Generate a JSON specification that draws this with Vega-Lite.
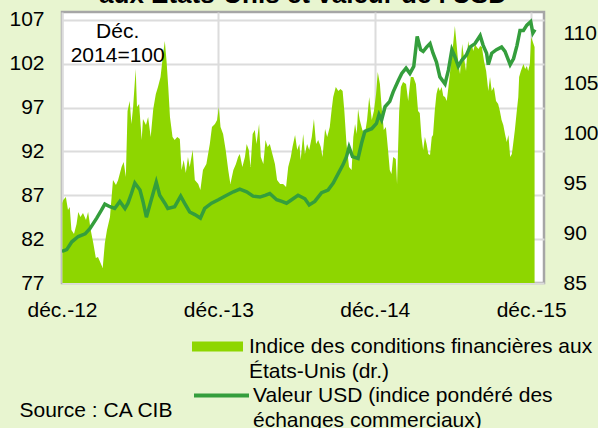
{
  "$schema": "https://vega.github.io/schema/vega-lite/v6.json",
  "width": 482,
  "height": 271,
  "autosize": {"type": "none"},
  "padding": {"left": 62, "top": 12, "right": 54, "bottom": 145},
  "background": "#e8f5d0",
  "config": {
    "font": "Liberation Sans",
    "view": {"fill": "#ffffff", "stroke": "#a6a6a6", "strokeWidth": 2.5},
    "axis": {"labelFont": "Liberation Sans", "labelFontSize": 21, "labelColor": "#000000", "domain": false, "ticks": false, "gridColor": "#dcdcdc", "gridWidth": 2}
  },
  "title": {"text": ["Conditions financières", "aux États-Unis et valeur de l'USD"], "fontSize": 26, "fontWeight": "bold", "font": "Liberation Sans", "color": "#000000", "anchor": "middle", "baseline": "alphabetic", "orient": "top", "frame": "group", "offset": 3, "dy": 23, "lineHeight": 30},
  "datasets": {
    "fci": [
      {"date": "2012-12-02", "fci": 93.0}, {"date": "2012-12-04", "fci": 93.3}, {"date": "2012-12-10", "fci": 93.6}, {"date": "2012-12-15", "fci": 92.3}, {"date": "2012-12-19", "fci": 92.6}, {"date": "2012-12-23", "fci": 90.3}, {"date": "2012-12-29", "fci": 89.9},
      {"date": "2013-01-04", "fci": 90.9}, {"date": "2013-01-08", "fci": 92.1}, {"date": "2013-01-13", "fci": 91.6}, {"date": "2013-01-19", "fci": 92.0}, {"date": "2013-01-26", "fci": 91.3}, {"date": "2013-01-31", "fci": 92.1},
      {"date": "2013-02-06", "fci": 90.3}, {"date": "2013-02-12", "fci": 89.0}, {"date": "2013-02-18", "fci": 87.5}, {"date": "2013-02-23", "fci": 87.6},
      {"date": "2013-03-01", "fci": 87.0}, {"date": "2013-03-06", "fci": 86.5}, {"date": "2013-03-11", "fci": 89.0}, {"date": "2013-03-16", "fci": 90.3}, {"date": "2013-03-23", "fci": 91.6}, {"date": "2013-03-30", "fci": 95.3},
      {"date": "2013-04-06", "fci": 94.8}, {"date": "2013-04-11", "fci": 95.3}, {"date": "2013-04-19", "fci": 96.6}, {"date": "2013-04-24", "fci": 97.1}, {"date": "2013-04-29", "fci": 95.6},
      {"date": "2013-05-03", "fci": 102.2}, {"date": "2013-05-08", "fci": 103.2}, {"date": "2013-05-12", "fci": 100.9}, {"date": "2013-05-16", "fci": 102.6}, {"date": "2013-05-22", "fci": 106.4}, {"date": "2013-05-25", "fci": 102.6}, {"date": "2013-05-30", "fci": 102.9},
      {"date": "2013-06-05", "fci": 99.3}, {"date": "2013-06-08", "fci": 101.4}, {"date": "2013-06-15", "fci": 100.8}, {"date": "2013-06-20", "fci": 101.6}, {"date": "2013-06-26", "fci": 99.6},
      {"date": "2013-07-02", "fci": 102.4}, {"date": "2013-07-08", "fci": 103.9}, {"date": "2013-07-13", "fci": 104.6}, {"date": "2013-07-19", "fci": 105.6}, {"date": "2013-07-25", "fci": 107.9}, {"date": "2013-07-29", "fci": 109.2},
      {"date": "2013-08-02", "fci": 107.2}, {"date": "2013-08-06", "fci": 104.6}, {"date": "2013-08-10", "fci": 101.6}, {"date": "2013-08-16", "fci": 99.6}, {"date": "2013-08-21", "fci": 99.3}, {"date": "2013-08-27", "fci": 99.6},
      {"date": "2013-09-02", "fci": 99.4}, {"date": "2013-09-06", "fci": 96.3}, {"date": "2013-09-11", "fci": 97.3}, {"date": "2013-09-16", "fci": 96.0}, {"date": "2013-09-21", "fci": 97.6}, {"date": "2013-09-25", "fci": 96.6},
      {"date": "2013-10-02", "fci": 98.3}, {"date": "2013-10-07", "fci": 95.3}, {"date": "2013-10-15", "fci": 94.9}, {"date": "2013-10-20", "fci": 94.3}, {"date": "2013-10-26", "fci": 96.3},
      {"date": "2013-11-03", "fci": 96.9}, {"date": "2013-11-11", "fci": 98.9}, {"date": "2013-11-16", "fci": 100.6}, {"date": "2013-11-23", "fci": 100.9}, {"date": "2013-11-28", "fci": 101.3},
      {"date": "2013-12-02", "fci": 102.6}, {"date": "2013-12-06", "fci": 100.6}, {"date": "2013-12-12", "fci": 99.9}, {"date": "2013-12-18", "fci": 98.3}, {"date": "2013-12-24", "fci": 96.3}, {"date": "2013-12-29", "fci": 94.9},
      {"date": "2014-01-05", "fci": 96.3}, {"date": "2014-01-11", "fci": 96.9}, {"date": "2014-01-16", "fci": 97.6}, {"date": "2014-01-20", "fci": 97.9}, {"date": "2014-01-26", "fci": 96.6},
      {"date": "2014-02-01", "fci": 97.6}, {"date": "2014-02-05", "fci": 98.9}, {"date": "2014-02-10", "fci": 98.3}, {"date": "2014-02-14", "fci": 96.6}, {"date": "2014-02-19", "fci": 99.9}, {"date": "2014-02-24", "fci": 100.3}, {"date": "2014-02-28", "fci": 98.9},
      {"date": "2014-03-06", "fci": 100.9}, {"date": "2014-03-10", "fci": 97.6}, {"date": "2014-03-16", "fci": 96.9}, {"date": "2014-03-21", "fci": 99.3}, {"date": "2014-03-26", "fci": 98.6}, {"date": "2014-03-31", "fci": 98.9},
      {"date": "2014-04-06", "fci": 97.9}, {"date": "2014-04-12", "fci": 96.9}, {"date": "2014-04-17", "fci": 95.3}, {"date": "2014-04-24", "fci": 94.9},
      {"date": "2014-05-01", "fci": 94.9}, {"date": "2014-05-08", "fci": 94.6}, {"date": "2014-05-13", "fci": 96.6}, {"date": "2014-05-19", "fci": 97.6}, {"date": "2014-05-23", "fci": 98.6}, {"date": "2014-05-29", "fci": 99.8},
      {"date": "2014-06-03", "fci": 98.3}, {"date": "2014-06-08", "fci": 98.9}, {"date": "2014-06-11", "fci": 97.3}, {"date": "2014-06-17", "fci": 99.9}, {"date": "2014-06-21", "fci": 97.9}, {"date": "2014-06-26", "fci": 98.9},
      {"date": "2014-07-01", "fci": 98.3}, {"date": "2014-07-07", "fci": 99.6}, {"date": "2014-07-12", "fci": 101.4}, {"date": "2014-07-17", "fci": 98.9}, {"date": "2014-07-22", "fci": 99.3}, {"date": "2014-07-28", "fci": 98.6},
      {"date": "2014-08-01", "fci": 97.6}, {"date": "2014-08-07", "fci": 100.4}, {"date": "2014-08-12", "fci": 99.6}, {"date": "2014-08-18", "fci": 100.6}, {"date": "2014-08-22", "fci": 102.2}, {"date": "2014-08-26", "fci": 103.6},
      {"date": "2014-09-01", "fci": 104.6}, {"date": "2014-09-07", "fci": 104.2}, {"date": "2014-09-12", "fci": 104.4}, {"date": "2014-09-17", "fci": 104.2}, {"date": "2014-09-21", "fci": 102.2}, {"date": "2014-09-26", "fci": 98.9},
      {"date": "2014-10-02", "fci": 96.6}, {"date": "2014-10-08", "fci": 96.3}, {"date": "2014-10-12", "fci": 99.6}, {"date": "2014-10-16", "fci": 100.9}, {"date": "2014-10-20", "fci": 99.9}, {"date": "2014-10-23", "fci": 102.4}, {"date": "2014-10-27", "fci": 101.3},
      {"date": "2014-11-02", "fci": 100.3}, {"date": "2014-11-08", "fci": 99.9}, {"date": "2014-11-13", "fci": 101.3}, {"date": "2014-11-18", "fci": 103.6}, {"date": "2014-11-24", "fci": 101.3}, {"date": "2014-11-29", "fci": 102.2},
      {"date": "2014-12-04", "fci": 103.9}, {"date": "2014-12-08", "fci": 106.1}, {"date": "2014-12-13", "fci": 104.9}, {"date": "2014-12-17", "fci": 102.6}, {"date": "2014-12-22", "fci": 100.3}, {"date": "2014-12-27", "fci": 100.6},
      {"date": "2015-01-01", "fci": 98.3}, {"date": "2015-01-05", "fci": 96.3}, {"date": "2015-01-09", "fci": 95.9}, {"date": "2015-01-13", "fci": 97.6}, {"date": "2015-01-19", "fci": 97.4}, {"date": "2015-01-22", "fci": 94.9}, {"date": "2015-01-27", "fci": 102.2}, {"date": "2015-01-31", "fci": 104.6},
      {"date": "2015-02-05", "fci": 105.1}, {"date": "2015-02-12", "fci": 104.9}, {"date": "2015-02-17", "fci": 103.2}, {"date": "2015-02-23", "fci": 105.6},
      {"date": "2015-03-01", "fci": 105.6}, {"date": "2015-03-07", "fci": 104.9}, {"date": "2015-03-12", "fci": 102.2}, {"date": "2015-03-16", "fci": 102.0}, {"date": "2015-03-20", "fci": 99.6}, {"date": "2015-03-24", "fci": 98.3}, {"date": "2015-03-28", "fci": 99.6},
      {"date": "2015-04-01", "fci": 98.9}, {"date": "2015-04-05", "fci": 97.9}, {"date": "2015-04-09", "fci": 97.8}, {"date": "2015-04-13", "fci": 99.6}, {"date": "2015-04-16", "fci": 99.8}, {"date": "2015-04-20", "fci": 102.2}, {"date": "2015-04-24", "fci": 103.9}, {"date": "2015-04-28", "fci": 104.6},
      {"date": "2015-05-02", "fci": 104.2}, {"date": "2015-05-06", "fci": 104.6}, {"date": "2015-05-10", "fci": 103.7}, {"date": "2015-05-14", "fci": 103.6}, {"date": "2015-05-18", "fci": 103.2}, {"date": "2015-05-22", "fci": 104.6}, {"date": "2015-05-26", "fci": 106.2}, {"date": "2015-05-30", "fci": 107.9},
      {"date": "2015-06-02", "fci": 108.9}, {"date": "2015-06-06", "fci": 110.7}, {"date": "2015-06-10", "fci": 108.9}, {"date": "2015-06-14", "fci": 106.9}, {"date": "2015-06-18", "fci": 105.9}, {"date": "2015-06-23", "fci": 108.9}, {"date": "2015-06-27", "fci": 107.6},
      {"date": "2015-07-02", "fci": 106.2}, {"date": "2015-07-07", "fci": 109.2}, {"date": "2015-07-11", "fci": 108.2}, {"date": "2015-07-15", "fci": 108.9}, {"date": "2015-07-19", "fci": 108.2}, {"date": "2015-07-23", "fci": 108.9}, {"date": "2015-07-27", "fci": 108.6}, {"date": "2015-07-31", "fci": 108.4},
      {"date": "2015-08-04", "fci": 108.7}, {"date": "2015-08-08", "fci": 108.6}, {"date": "2015-08-13", "fci": 107.2}, {"date": "2015-08-18", "fci": 106.2}, {"date": "2015-08-23", "fci": 104.2}, {"date": "2015-08-27", "fci": 105.6}, {"date": "2015-08-31", "fci": 104.2},
      {"date": "2015-09-05", "fci": 104.6}, {"date": "2015-09-10", "fci": 103.2}, {"date": "2015-09-15", "fci": 102.9}, {"date": "2015-09-19", "fci": 102.2}, {"date": "2015-09-23", "fci": 101.3}, {"date": "2015-09-27", "fci": 100.8},
      {"date": "2015-10-01", "fci": 99.9}, {"date": "2015-10-05", "fci": 99.1}, {"date": "2015-10-09", "fci": 99.8}, {"date": "2015-10-13", "fci": 97.6}, {"date": "2015-10-17", "fci": 97.9}, {"date": "2015-10-20", "fci": 98.9}, {"date": "2015-10-24", "fci": 100.3}, {"date": "2015-10-28", "fci": 102.0},
      {"date": "2015-11-01", "fci": 103.6}, {"date": "2015-11-03", "fci": 105.6}, {"date": "2015-11-07", "fci": 106.2}, {"date": "2015-11-13", "fci": 106.9}, {"date": "2015-11-17", "fci": 106.4}, {"date": "2015-11-21", "fci": 106.7}, {"date": "2015-11-24", "fci": 106.2}, {"date": "2015-11-28", "fci": 106.9},
      {"date": "2015-12-01", "fci": 109.6}, {"date": "2015-12-05", "fci": 109.1}, {"date": "2015-12-09", "fci": 108.6}
    ],
    "usd": [
      {"date": "2012-12-01", "usd": 80.6}, {"date": "2012-12-12", "usd": 80.8}, {"date": "2012-12-24", "usd": 81.7}, {"date": "2013-01-08", "usd": 82.3}, {"date": "2013-01-24", "usd": 82.6},
      {"date": "2013-02-04", "usd": 83.2}, {"date": "2013-02-20", "usd": 84.4}, {"date": "2013-03-03", "usd": 85.3}, {"date": "2013-03-11", "usd": 86.0}, {"date": "2013-03-23", "usd": 85.7},
      {"date": "2013-04-03", "usd": 85.5}, {"date": "2013-04-15", "usd": 86.3}, {"date": "2013-04-27", "usd": 85.5}, {"date": "2013-05-04", "usd": 86.1}, {"date": "2013-05-12", "usd": 87.2},
      {"date": "2013-05-20", "usd": 88.4}, {"date": "2013-06-01", "usd": 87.6}, {"date": "2013-06-08", "usd": 86.3}, {"date": "2013-06-16", "usd": 84.5}, {"date": "2013-06-24", "usd": 85.9},
      {"date": "2013-07-02", "usd": 87.3}, {"date": "2013-07-09", "usd": 88.5}, {"date": "2013-07-17", "usd": 87.0}, {"date": "2013-07-29", "usd": 86.1}, {"date": "2013-08-05", "usd": 85.5},
      {"date": "2013-08-21", "usd": 85.7}, {"date": "2013-09-04", "usd": 86.9}, {"date": "2013-09-13", "usd": 86.1}, {"date": "2013-09-25", "usd": 85.1}, {"date": "2013-10-07", "usd": 84.8},
      {"date": "2013-10-20", "usd": 84.4}, {"date": "2013-10-30", "usd": 85.5}, {"date": "2013-11-15", "usd": 86.1}, {"date": "2013-12-01", "usd": 86.5}, {"date": "2013-12-16", "usd": 86.9},
      {"date": "2014-01-05", "usd": 87.4}, {"date": "2014-01-20", "usd": 87.7}, {"date": "2014-02-05", "usd": 87.4}, {"date": "2014-02-20", "usd": 86.9}, {"date": "2014-03-08", "usd": 86.8},
      {"date": "2014-03-20", "usd": 87.0}, {"date": "2014-03-31", "usd": 87.2}, {"date": "2014-04-16", "usd": 86.5}, {"date": "2014-04-28", "usd": 86.3}, {"date": "2014-05-09", "usd": 86.1},
      {"date": "2014-05-21", "usd": 86.5}, {"date": "2014-06-05", "usd": 87.0}, {"date": "2014-06-21", "usd": 86.6}, {"date": "2014-07-01", "usd": 85.9}, {"date": "2014-07-14", "usd": 86.3},
      {"date": "2014-07-30", "usd": 87.3}, {"date": "2014-08-14", "usd": 87.6}, {"date": "2014-08-26", "usd": 88.4}, {"date": "2014-09-07", "usd": 89.5}, {"date": "2014-09-18", "usd": 90.5},
      {"date": "2014-09-26", "usd": 91.4}, {"date": "2014-10-02", "usd": 92.5}, {"date": "2014-10-10", "usd": 91.4}, {"date": "2014-10-23", "usd": 91.2}, {"date": "2014-10-31", "usd": 92.9},
      {"date": "2014-11-08", "usd": 94.3}, {"date": "2014-11-24", "usd": 94.6}, {"date": "2014-12-05", "usd": 95.2}, {"date": "2014-12-11", "usd": 96.2}, {"date": "2014-12-17", "usd": 95.6},
      {"date": "2014-12-25", "usd": 97.1}, {"date": "2015-01-05", "usd": 97.7}, {"date": "2015-01-13", "usd": 98.8}, {"date": "2015-01-25", "usd": 100.1}, {"date": "2015-02-02", "usd": 100.9},
      {"date": "2015-02-12", "usd": 101.5}, {"date": "2015-02-21", "usd": 100.9}, {"date": "2015-03-02", "usd": 101.7}, {"date": "2015-03-10", "usd": 105.1}, {"date": "2015-03-18", "usd": 103.6},
      {"date": "2015-03-24", "usd": 103.4}, {"date": "2015-04-01", "usd": 103.9}, {"date": "2015-04-09", "usd": 104.3}, {"date": "2015-04-16", "usd": 103.2}, {"date": "2015-04-24", "usd": 102.2},
      {"date": "2015-05-02", "usd": 100.5}, {"date": "2015-05-14", "usd": 99.7}, {"date": "2015-05-22", "usd": 101.3}, {"date": "2015-05-30", "usd": 103.6}, {"date": "2015-06-06", "usd": 102.8},
      {"date": "2015-06-14", "usd": 101.7}, {"date": "2015-06-22", "usd": 102.4}, {"date": "2015-07-03", "usd": 103.0}, {"date": "2015-07-11", "usd": 103.9}, {"date": "2015-07-23", "usd": 104.3},
      {"date": "2015-08-04", "usd": 105.2}, {"date": "2015-08-11", "usd": 104.1}, {"date": "2015-08-19", "usd": 103.2}, {"date": "2015-08-23", "usd": 101.9}, {"date": "2015-08-31", "usd": 103.2},
      {"date": "2015-09-11", "usd": 103.6}, {"date": "2015-09-23", "usd": 103.9}, {"date": "2015-10-01", "usd": 103.4}, {"date": "2015-10-13", "usd": 101.9}, {"date": "2015-10-21", "usd": 102.6},
      {"date": "2015-10-29", "usd": 104.1}, {"date": "2015-11-05", "usd": 105.8}, {"date": "2015-11-13", "usd": 105.8}, {"date": "2015-11-21", "usd": 106.4}, {"date": "2015-11-30", "usd": 106.8},
      {"date": "2015-12-05", "usd": 105.5}, {"date": "2015-12-10", "usd": 105.9}
    ]
  },
  "encoding": {
    "x": {
      "field": "date", "type": "temporal",
      "scale": {"type": "utc", "domain": [{"year": 2012, "month": 12, "date": 1, "utc": true}, {"year": 2015, "month": 12, "date": 31, "utc": true}]},
      "axis": {
        "values": [{"year": 2012, "month": 12, "date": 1, "utc": true}, {"year": 2013, "month": 12, "date": 1, "utc": true}, {"year": 2014, "month": 12, "date": 1, "utc": true}, {"year": 2015, "month": 12, "date": 1, "utc": true}],
        "labelExpr": "'déc.-' + utcFormat(datum.value, '%y')",
        "grid": true, "labelPadding": 16, "labelFlush": false, "labelOverlap": false,
        "title": "Source : CA CIB", "titleX": -43, "titleY": 127, "titleAlign": "left", "titleBaseline": "middle", "titleFontWeight": "normal", "titleFontSize": 21, "titleColor": "#000000", "titleFont": "Liberation Sans"
      }
    }
  },
  "layer": [
    {
      "data": {"name": "fci"},
      "mark": {"type": "area", "clip": true},
      "encoding": {
        "y": {"field": "fci", "type": "quantitative", "scale": {"domain": [85, 112.1], "nice": false, "zero": false},
          "axis": {"orient": "right", "values": [85, 90, 95, 100, 105, 110], "grid": false, "title": null, "labelPadding": 19}},
        "fill": {"datum": "Indice des conditions financières aux États-Unis (dr.)", "type": "nominal", "scale": {"range": ["#8ed600"]},
          "legend": {"orient": "none", "legendX": 130, "legendY": 309, "title": null, "padding": 0, "symbolType": "M-1,-0.2H1V0.2H-1Z", "symbolSize": 2601, "symbolStrokeWidth": 0, "symbolOpacity": 1, "labelFontSize": 21, "labelFont": "Liberation Sans", "labelColor": "#000000", "labelLimit": 500, "labelOffset": 6, "labelBaseline": "top", "labelExpr": "['Indice des conditions financières aux', 'États-Unis (dr.)']", "encode": {"labels": {"update": {"lineHeight": {"value": 25}, "dy": {"value": -11}}}}}}
      }
    },
    {
      "layer": [
        {
          "data": {"name": "usd"},
          "mark": {"type": "line", "strokeWidth": 3.5, "clip": true},
          "encoding": {
            "y": {"field": "usd", "type": "quantitative", "scale": {"domain": [77, 107.9], "nice": false, "zero": false},
              "axis": {"orient": "left", "values": [77, 82, 87, 92, 97, 102, 107], "grid": true, "title": null, "labelPadding": 18}},
            "stroke": {"datum": "Valeur USD (indice pondéré des échanges commerciaux)", "type": "nominal", "scale": {"range": ["#349e3c"]},
              "legend": {"orient": "none", "legendX": 130, "legendY": 354, "title": null, "padding": 0, "symbolType": "stroke", "symbolSize": 3025, "symbolStrokeWidth": 4, "symbolOpacity": 1, "labelFontSize": 21, "labelFont": "Liberation Sans", "labelColor": "#000000", "labelLimit": 500, "labelOffset": 2, "labelBaseline": "top", "labelExpr": "['Valeur USD (indice pondéré des', 'échanges commerciaux)']", "encode": {"labels": {"update": {"lineHeight": {"value": 25}, "dy": {"value": -11}}}}}}
          }
        },
        {
          "data": {"values": [{"date": "2013-04-10", "usd": 105.6, "note": ["Déc.", "2014=100"]}]},
          "mark": {"type": "text", "fontSize": 21, "font": "Liberation Sans", "color": "#000000", "align": "center", "baseline": "middle", "lineHeight": 23.5},
          "encoding": {
            "y": {"field": "usd", "type": "quantitative"},
            "text": {"field": "note", "type": "nominal"}
          }
        }
      ]
    }
  ],
  "resolve": {"scale": {"y": "independent"}}
}
